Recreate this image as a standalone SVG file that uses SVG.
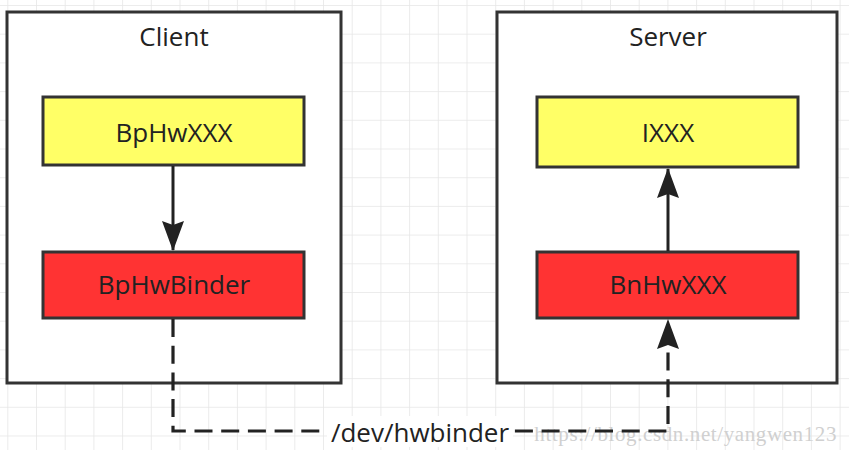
<svg xmlns="http://www.w3.org/2000/svg" width="849" height="450" viewBox="0 0 849 450">
<style>
.bg{fill:#ffffff}
.container{fill:#ffffff;stroke:#333333;stroke-width:3}
.yellow{fill:#ffff66;stroke:#333333;stroke-width:3}
.red{fill:#ff3333;stroke:#333333;stroke-width:3}
.lbl{font-family:"Open Sans","Noto Sans",sans-serif;font-size:26px;fill:#222222;text-anchor:middle}
.edge{fill:none;stroke:#222222;stroke-width:3}
.dash{stroke-dasharray:18 8.7;stroke-width:3.2}
.wm{font-family:"Liberation Serif",serif;font-size:21px;fill:#d0d0d0;text-anchor:end;letter-spacing:0.6px}
</style>
<defs>
<pattern id="grid" x="7.3" y="5" width="28.7" height="28.7" patternUnits="userSpaceOnUse">
<path d="M0,0 H28.7 M0,0 V28.7" fill="none" stroke="#e6e6e6" stroke-width="1.6"/>
</pattern>
<marker id="arrow" viewBox="0 0 30 22" markerWidth="30" markerHeight="22" refX="29" refY="11" orient="auto" markerUnits="userSpaceOnUse">
<path d="M0,0 L30,11 L0,22 L4,11 Z" fill="#222222"/>
</marker>
</defs>
<rect class="bg" x="0" y="0" width="849" height="450"/>
<rect x="0" y="0" width="849" height="450" fill="url(#grid)"/>
<g id="client">
<rect class="container" x="7" y="12" width="334" height="371"/>
<text class="lbl" x="174" y="46">Client</text>
</g>
<g id="server">
<rect class="container" x="497" y="12" width="340" height="371"/>
<text class="lbl" x="668" y="46">Server</text>
</g>
<g id="bphwxxx">
<rect class="yellow" x="43" y="97" width="261" height="68"/>
<text class="lbl" x="174" y="142">BpHwXXX</text>
</g>
<g id="bphwbinder">
<rect class="red" x="43" y="252" width="261" height="66"/>
<text class="lbl" x="174" y="294">BpHwBinder</text>
</g>
<g id="ixxx">
<rect class="yellow" x="537" y="97" width="261" height="70"/>
<text class="lbl" x="668" y="142">IXXX</text>
</g>
<g id="bnhwxxx">
<rect class="red" x="537" y="252" width="261" height="66"/>
<text class="lbl" x="668" y="294">BnHwXXX</text>
</g>
<text class="wm" x="837" y="441">https://blog.csdn.net/yangwen123</text>
<g id="connectors">
<path class="edge" d="M173,166 V250" marker-end="url(#arrow)"/>
<path class="edge" d="M668,251 V169" marker-end="url(#arrow)"/>
<path class="edge dash" d="M173,319 V431 H668 V320" marker-end="url(#arrow)"/>
<rect x="327" y="416" width="186" height="31" fill="#ffffff"/>
<text class="lbl" x="420" y="442">/dev/hwbinder</text>
</g>
</svg>
